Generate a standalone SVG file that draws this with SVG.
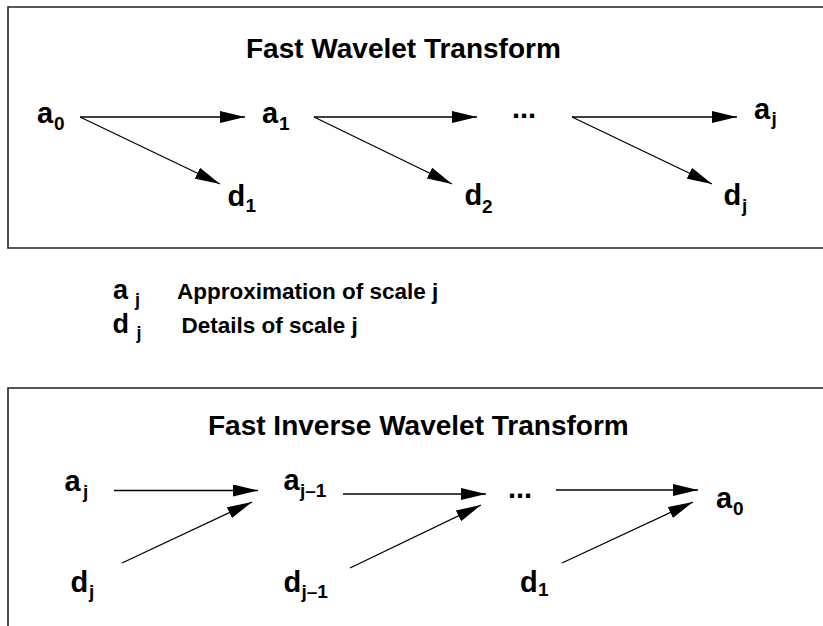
<svg xmlns="http://www.w3.org/2000/svg" width="823" height="626" viewBox="0 0 823 626">
<style>
text{font-family:"Liberation Sans",Arial,sans-serif;font-weight:bold;fill:#000}
.t{font-size:28px}
.m{font-size:29px}
.s{font-size:19px}
.l{font-size:22.5px}
.lm{font-size:27px}
.ls{font-size:18px}
.box{fill:none;stroke:#222;stroke-width:1.6}
.c line{stroke:#000;stroke-width:1.3;marker-end:url(#ah)}
</style>
<defs>
<marker id="ah" markerUnits="userSpaceOnUse" markerWidth="26" markerHeight="12" refX="25" refY="6" orient="auto" viewBox="0 0 26 12">
<path d="M0,0 L25,6 L0,12 z" fill="#000"/>
</marker>
</defs>
<rect width="823" height="626" fill="#fff"/>
<g id="fwt-box">
<path class="box" d="M830,7 H8 V248 H830"/>
<text class="t" x="246" y="58">Fast Wavelet Transform</text>
</g>
<g id="ifwt-box">
<path class="box" d="M830,388 H8 V640"/>
<text class="t" x="208" y="435">Fast Inverse Wavelet Transform</text>
</g>
<g id="top-a0"><text class="m" x="37" y="122.5">a</text><text class="s" x="54" y="130">0</text></g>
<g id="top-a1"><text class="m" x="262" y="122.5">a</text><text class="s" x="279" y="130">1</text></g>
<g id="top-dots"><text class="m" x="512" y="118">...</text></g>
<g id="top-aj"><text class="m" x="754" y="118.5">a</text><text class="s" x="771.5" y="124.5">j</text></g>
<g id="top-d1"><text class="m" x="227.5" y="205.5">d</text><text class="s" x="245.5" y="212">1</text></g>
<g id="top-d2"><text class="m" x="464.5" y="205">d</text><text class="s" x="482" y="213">2</text></g>
<g id="top-dj"><text class="m" x="723.5" y="205">d</text><text class="s" x="742" y="212">j</text></g>
<g id="legend-a"><text class="lm" x="113" y="299">a</text><text class="ls" x="135" y="306">j</text><text class="l" x="177" y="299">Approximation of scale j</text></g>
<g id="legend-d"><text class="lm" x="112.5" y="332.5">d</text><text class="ls" x="136.5" y="339">j</text><text class="l" x="181.5" y="332.5">Details of scale j</text></g>
<g id="bot-aj"><text class="m" x="64.5" y="490.5">a</text><text class="s" x="83" y="498">j</text></g>
<g id="bot-aj1"><text class="m" x="283.5" y="489.5">a</text><text class="s" x="300" y="497">j–1</text></g>
<g id="bot-dots"><text class="m" x="508" y="498">...</text></g>
<g id="bot-a0"><text class="m" x="716" y="508">a</text><text class="s" x="733" y="515">0</text></g>
<g id="bot-dj"><text class="m" x="70.5" y="591.5">d</text><text class="s" x="89" y="598">j</text></g>
<g id="bot-dj1"><text class="m" x="283.5" y="591.5">d</text><text class="s" x="301.5" y="598">j–1</text></g>
<g id="bot-d1"><text class="m" x="520" y="591.5">d</text><text class="s" x="538" y="596">1</text></g>
<g id="connectors" class="c">
<line x1="80" y1="117" x2="245" y2="117"/>
<line x1="80" y1="117" x2="220" y2="184"/>
<line x1="314" y1="117" x2="477" y2="117"/>
<line x1="314" y1="117" x2="452" y2="184"/>
<line x1="572" y1="117" x2="737" y2="117"/>
<line x1="572" y1="117" x2="712" y2="184"/>
<line x1="114" y1="490.5" x2="258" y2="490.5"/>
<line x1="122" y1="563" x2="252" y2="502"/>
<line x1="343" y1="494" x2="486" y2="494"/>
<line x1="350" y1="568" x2="481" y2="505"/>
<line x1="556" y1="490" x2="698" y2="490"/>
<line x1="562" y1="563" x2="693" y2="502"/>
</g>
</svg>
